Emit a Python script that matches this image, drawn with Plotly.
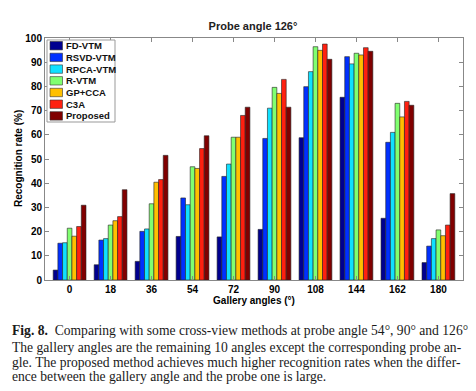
import plotly.graph_objects as go

gallery_angles = ["0", "18", "36", "54", "72", "90", "108", "144", "162", "180"]
methods = ["FD-VTM", "RSVD-VTM", "RPCA-VTM", "R-VTM", "GP+CCA", "C3A", "Proposed"]
fd_vtm   = [4.1, 6.3, 7.7, 18.0, 17.8, 20.9, 58.8, 75.5, 25.5, 7.2]
rsvd_vtm = [15.2, 16.5, 20.1, 33.9, 42.8, 58.5, 79.9, 92.3, 56.9, 14.0]
rpca_vtm = [15.4, 17.1, 21.1, 31.1, 47.9, 71.0, 86.1, 89.3, 61.0, 17.1]
r_vtm    = [21.4, 22.7, 31.5, 46.8, 59.0, 79.6, 96.4, 93.7, 73.0, 20.7]
gp_cca   = [18.1, 24.5, 40.4, 46.1, 59.0, 77.1, 94.9, 93.0, 67.4, 18.3]
c3a      = [22.1, 26.2, 41.5, 54.3, 68.0, 82.9, 97.5, 96.0, 73.8, 22.7]
proposed = [30.9, 37.3, 51.5, 59.6, 71.4, 71.4, 91.2, 94.5, 72.2, 35.7]
series = [fd_vtm, rsvd_vtm, rpca_vtm, r_vtm, gp_cca, c3a, proposed]
colors = ["#00008F", "#0030FF", "#10E0FF", "#80FF70", "#FFC000", "#FF2010", "#800000"]
y_ticks = list(range(0, 101, 10))

caption_lines = [
    "<b>Fig. 8.</b>  Comparing with some cross-view methods at probe angle 54°, 90° and 126°.",
    "The gallery angles are the remaining 10 angles except the corresponding probe an-",
    "gle. The proposed method achieves much higher recognition rates when the differ-",
    "ence between the gallery angle and the probe one is large.",
]

# page body has an 8px default margin; lay out in window pixel coordinates
O = 8
WIN_W, WIN_H = 476, 391
W, H = WIN_W - O, WIN_H - O
PL, PR, PT, PB = 45, 463, 38, 280          # plot area in window pixels
L, R, T, B = PL - O, WIN_W - PR, PT - O, WIN_H - PB
PW, PH = PR - PL, PB - PT

def px(x):
    return (x - PL) / PW

def py(y):
    return (PB - y) / PH

fig = go.Figure()
for name, vals, col in zip(methods, series, colors):
    fig.add_trace(go.Bar(
        x=gallery_angles, y=vals, name=name,
        marker=dict(color=col, line=dict(color="#222222", width=0.6)),
    ))

fig.update_layout(
    width=W, height=H,
    margin=dict(l=L, r=R, t=T, b=B),
    paper_bgcolor="white", plot_bgcolor="white",
    barmode="group", bargap=0.2, bargroupgap=0.0,
    font=dict(family="Liberation Sans, Arial", size=10, color="#000000"),
    title=dict(text="<b>Probe angle 126°</b>", x=px(253) * PW / W + L / W, xanchor="center",
               y=1 - (26 - O) / H, yanchor="middle",
               font=dict(size=11, family="Liberation Sans, Arial", color="#222222")),
    showlegend=False,
)

fig.update_xaxes(
    type="category", range=[-0.6, 9.6], automargin=False,
    showline=True, linecolor="#888888", linewidth=1, mirror="allticks",
    ticks="inside", ticklen=4, tickcolor="#888888",
    tickfont=dict(size=10, family="Liberation Sans, Arial", weight="bold"),
    showgrid=False,
    title=dict(text="<b>Gallery angles (°)</b>", standoff=0,
               font=dict(size=10, family="Liberation Sans, Arial")),
)
fig.update_yaxes(
    range=[0, 100], tickvals=y_ticks, automargin=False,
    showline=True, linecolor="#888888", linewidth=1, mirror="allticks",
    ticks="inside", ticklen=4, tickcolor="#888888",
    tickfont=dict(size=10, family="Liberation Sans, Arial", weight="bold"),
    showgrid=False, zeroline=False,
)

# y-axis title placed like the MATLAB original
fig.add_annotation(text="<b>Recognition rate (%)</b>", xref="paper", yref="paper",
                   x=px(18), y=py(159), textangle=-90, showarrow=False,
                   xanchor="center", yanchor="middle",
                   font=dict(size=10, family="Liberation Sans, Arial", color="#000000"))

# manual compact legend (MATLAB style)
fig.add_shape(type="rect", xref="paper", yref="paper",
              x0=px(47), x1=px(115), y0=py(122), y1=py(40),
              line=dict(color="#999999", width=1), fillcolor="white", layer="above")
for i, (name, col) in enumerate(zip(methods, colors)):
    cy = 45.7 + i * 11.7
    fig.add_shape(type="rect", xref="paper", yref="paper",
                  x0=px(50), x1=px(62.5), y0=py(cy + 4.2), y1=py(cy - 4.2),
                  line=dict(color="#333333", width=0.6), fillcolor=col, layer="above")
    fig.add_annotation(text="<b>" + name + "</b>", xref="paper", yref="paper",
                       x=px(63.5), y=py(cy), xanchor="left", yanchor="middle",
                       showarrow=False,
                       font=dict(size=9.5, family="Liberation Sans, Arial", color="#111111"))

ys = [330, 347, 362, 376]
for line, yp in zip(caption_lines, ys):
    fig.add_annotation(
        text=line, xref="paper", yref="paper",
        x=px(10), y=py(yp),
        xanchor="left", yanchor="middle", showarrow=False,
        font=dict(size=13.6, family="Liberation Serif, serif", color="#1a1a1a"),
    )

fig.write_html("out.html")
